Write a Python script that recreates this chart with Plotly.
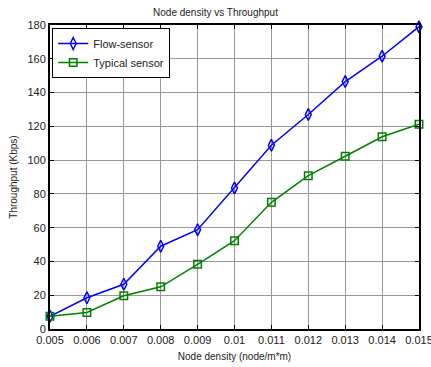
import plotly.graph_objects as go

density = [0.005, 0.006, 0.007, 0.008, 0.009, 0.010, 0.011, 0.012, 0.013, 0.014, 0.015]
flow_sensor = [7.5, 18.5, 26.5, 49, 58.8, 83.5, 108.8, 127, 146.5, 161.5, 179]
typical_sensor = [7.6, 9.8, 19.7, 25, 38.3, 52.3, 75, 90.8, 102.3, 113.8, 121.2]
x_ticks = [0.005, 0.006, 0.007, 0.008, 0.009, 0.01, 0.011, 0.012, 0.013, 0.014, 0.015]
x_tick_text = ["0.005", "0.006", "0.007", "0.008", "0.009", "0.01", "0.011", "0.012", "0.013", "0.014", "0.015"]
y_ticks = [0, 20, 40, 60, 80, 100, 120, 140, 160, 180]

FONT = "Arial, Liberation Sans, sans-serif"

fig = go.Figure()
fig.add_trace(go.Scatter(
    x=density, y=flow_sensor, name="Flow-sensor", mode="lines+markers",
    line=dict(color="#0000ff", width=1.5),
    marker=dict(symbol="diamond-tall-open", size=8.5, color="#0000ff", line=dict(width=1.5, color="#0000ff")),
    cliponaxis=False,
))
fig.add_trace(go.Scatter(
    x=density, y=typical_sensor, name="Typical sensor", mode="lines+markers",
    line=dict(color="#008000", width=1.5),
    marker=dict(symbol="square-open", size=7.5, color="#008000", line=dict(width=1.5, color="#008000")),
    cliponaxis=False,
))

axis_common = dict(
    showline=True, linecolor="black", linewidth=2, mirror="ticks",
    ticks="inside", ticklen=4, tickcolor="black",
    showgrid=True, gridcolor="#999999", gridwidth=1,
    zeroline=False, automargin=False, ticklabeloverflow="allow",
    tickfont=dict(family=FONT, size=11, color="#222222"),
)

fig.update_layout(
    width=431, height=367,
    margin=dict(l=49.5, r=12, t=25, b=38),
    paper_bgcolor="white", plot_bgcolor="white",
    title=dict(text="Node density vs Throughput", x=0.5, xanchor="center", y=0.965, yanchor="middle",
               font=dict(family=FONT, size=10, color="#222222")),
    xaxis=dict(range=[0.005, 0.015], tickvals=x_ticks, ticktext=x_tick_text,
               title=dict(text="Node density (node/m*m)", standoff=8,
                          font=dict(family=FONT, size=10, color="#222222")),
               **axis_common),
    yaxis=dict(range=[0, 180], tickvals=y_ticks,
               title=dict(text="Throughput (Kbps)", standoff=8,
                          font=dict(family=FONT, size=10, color="#222222")),
               **axis_common),
    legend=dict(x=0.006, y=0.99, xanchor="left", yanchor="top",
                bordercolor="black", borderwidth=1, bgcolor="white",
                font=dict(family=FONT, size=11, color="#222222"),
                tracegroupgap=0, itemwidth=30, traceorder="normal"),
    showlegend=True,
)

fig.write_html("out.html")
